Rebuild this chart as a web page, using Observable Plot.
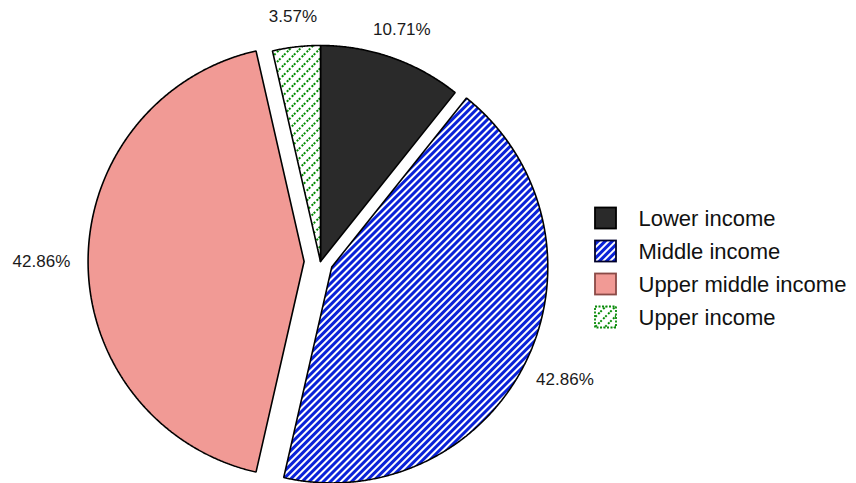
<!DOCTYPE html>
<html><head><meta charset="utf-8">
<script src="https://cdn.jsdelivr.net/npm/d3@7"></script>
<script src="https://cdn.jsdelivr.net/npm/@observablehq/plot@0.6"></script>
<style>body{margin:0;background:#fff}</style>
</head><body><div id="chart"></div>
<script>
// ---- data ----
const categories = ["Lower income", "Middle income", "Upper middle income", "Upper income"];
const counts = [3, 12, 12, 1];

// ---- styles / layout ----
const W = 856, H = 483;
const CX = 320, CY = 261, R = 216;
const explode = [0, 0.058, 0.076, 0];
const sliceFills = ["#2a2a2a", "url(#hatchBlue)", "#f19a95", "url(#hatchGreen)"];
const legendStrokes = ["#000", "#00002a", "#8a4a46", "#0a8a0a"];
const legendDash = [null, null, null, "2 1.5"];
const FONT = "'Liberation Sans', Arial, sans-serif";

const total = d3.sum(counts);
const arcs = d3.pie().sort(null).value(d => d)(counts);

const slices = arcs.map((a, i) => {
  const mid = (a.startAngle + a.endAngle) / 2;
  const ox = CX + explode[i] * R * Math.sin(mid);
  const oy = CY - explode[i] * R * Math.cos(mid);
  const pts = [[ox, oy]];
  const n = Math.max(2, Math.ceil((a.endAngle - a.startAngle) / 0.005));
  for (let k = 0; k <= n; k++) {
    const t = a.startAngle + (a.endAngle - a.startAngle) * k / n;
    pts.push([ox + R * Math.sin(t), oy - R * Math.cos(t)]);
  }
  pts.push([ox, oy]);
  const L = R * (1.14 + explode[i]);
  return {
    pts,
    label: (counts[i] / total * 100).toFixed(2) + "%",
    lx: ox + L * Math.sin(mid),
    ly: oy - L * Math.cos(mid)
  };
});

const LEG_X = 595, LEG_SIZE = 21, LEG_Y0 = 218, LEG_DY = 33, LEG_TX = 638;
const legend = categories.map((c, i) => ({c, i, yc: LEG_Y0 + i * LEG_DY}));

const marks = [];
slices.forEach((s, i) => {
  marks.push(Plot.line(s.pts, {
    x: d => d[0], y: d => d[1],
    fill: sliceFills[i], stroke: "black", strokeWidth: 1.6, strokeLinejoin: "miter"
  }));
});
marks.push(Plot.text(slices, {x: "lx", y: "ly", text: "label", fontSize: 17, fill: "#1a1a1a", fontFamily: FONT}));
legend.forEach((d, i) => {
  marks.push(Plot.rect([d], {
    x1: LEG_X, x2: LEG_X + LEG_SIZE,
    y1: e => e.yc - LEG_SIZE / 2, y2: e => e.yc + LEG_SIZE / 2,
    fill: sliceFills[i], stroke: legendStrokes[i], strokeWidth: 1.8,
    strokeDasharray: legendDash[i] || undefined
  }));
});
marks.push(Plot.text(legend, {x: LEG_TX, y: "yc", text: "c", textAnchor: "start", fontSize: 22, fill: "#111", fontFamily: FONT}));

const plot = Plot.plot({
  width: W, height: H, margin: 0,
  style: {fontFamily: FONT, background: "#fff"},
  x: {domain: [0, W], range: [0, W], axis: null},
  y: {domain: [0, H], range: [0, H], axis: null},
  marks
});

d3.select(plot).insert("defs", ":first-child").html(`
<pattern id="hatchBlue" patternUnits="userSpaceOnUse" width="5" height="5" patternTransform="rotate(45)">
  <rect width="5" height="5" fill="#0a22d8"/>
  <rect x="0" y="0" width="1.8" height="5" fill="#fff" shape-rendering="crispEdges"/>
</pattern>
<pattern id="hatchGreen" patternUnits="userSpaceOnUse" width="7" height="7" patternTransform="rotate(45)">
  <rect width="7" height="7" fill="#fff"/>
  <line x1="1.2" y1="0" x2="1.2" y2="7" stroke="#008a00" stroke-width="2.3" stroke-dasharray="2.3 1.2" shape-rendering="crispEdges"/>
</pattern>`);

document.getElementById("chart").appendChild(plot);
</script>
</body></html>
